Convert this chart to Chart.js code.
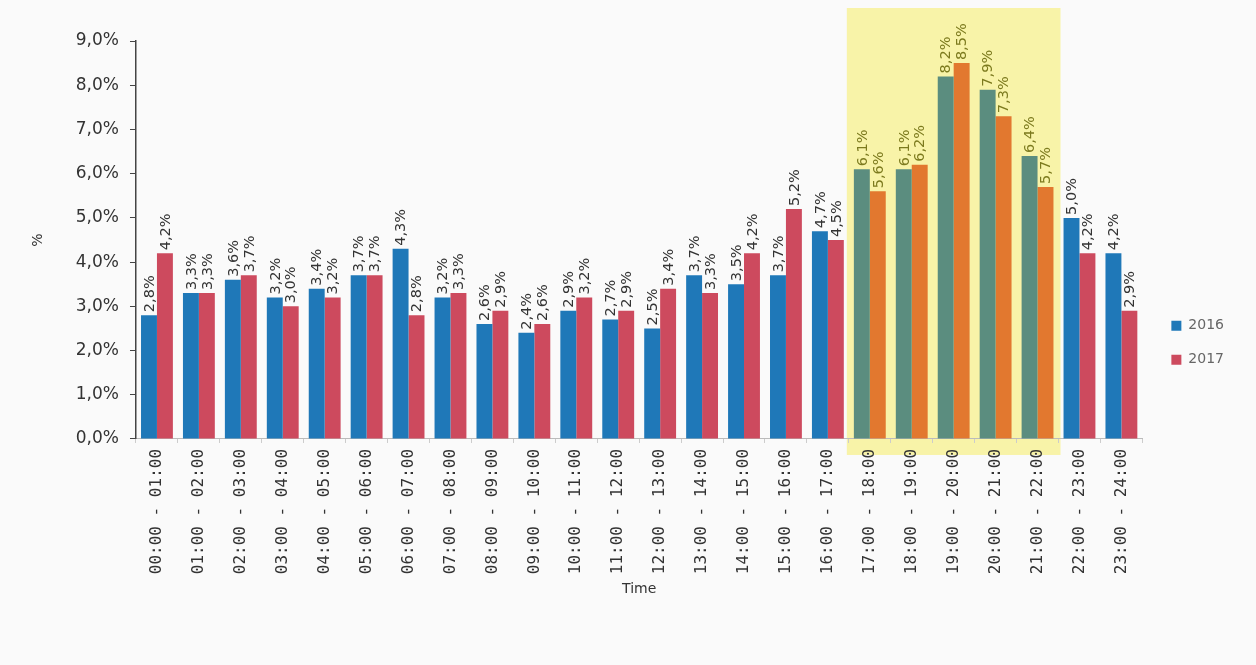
<!DOCTYPE html>
<html>
<head>
<meta charset="utf-8">
<script src="https://cdn.jsdelivr.net/npm/chart.js@4/dist/chart.umd.min.js"></script>
<style>
html,body{margin:0;padding:0;background:#ffffff;}
#wrap{position:relative;width:1256px;height:665px;background:#fafafa;}
#c{position:absolute;left:0;top:0;}
</style>
</head>
<body>
<div id="wrap"><canvas id="c" width="1256" height="665"></canvas></div>
<script>
const categories = ["00:00 - 01:00","01:00 - 02:00","02:00 - 03:00","03:00 - 04:00","04:00 - 05:00","05:00 - 06:00","06:00 - 07:00","07:00 - 08:00","08:00 - 09:00","09:00 - 10:00","10:00 - 11:00","11:00 - 12:00","12:00 - 13:00","13:00 - 14:00","14:00 - 15:00","15:00 - 16:00","16:00 - 17:00","17:00 - 18:00","18:00 - 19:00","19:00 - 20:00","20:00 - 21:00","21:00 - 22:00","22:00 - 23:00","23:00 - 24:00"];
const values2016 = [2.8,3.3,3.6,3.2,3.4,3.7,4.3,3.2,2.6,2.4,2.9,2.7,2.5,3.7,3.5,3.7,4.7,6.1,6.1,8.2,7.9,6.4,5.0,4.2];
const values2017 = [4.2,3.3,3.7,3.0,3.2,3.7,2.8,3.3,2.9,2.6,3.2,2.9,3.4,3.3,4.2,5.2,4.5,5.6,6.2,8.5,7.3,5.7,4.2,2.9];
const yTicks = [0,1,2,3,4,5,6,7,8,9];
const highlightFrom = 17, highlightTo = 21;
const seriesNames = ["2016","2017"];

const fmt = v => v.toFixed(1).replace('.', ',') + '%';
const inHL = i => i >= highlightFrom && i <= highlightTo;

const col2016 = categories.map((c,i) => inHL(i) ? '#5b8d7f' : '#1f78b8');
const col2017 = categories.map((c,i) => inHL(i) ? '#e2782f' : '#cd4a5e');

const highlightPlugin = {
  id: 'highlight',
  beforeDraw(chart) {
    const x = chart.scales.x, ctx = chart.ctx;
    const step = x.getPixelForValue(1) - x.getPixelForValue(0);
    const left = x.getPixelForValue(highlightFrom) - step/2 - 2;
    const right = x.getPixelForValue(highlightTo) + step/2 + 2;
    ctx.save();
    ctx.fillStyle = '#f8f3a8';
    ctx.fillRect(left, 8, right-left, chart.chartArea.bottom + 16 - 8);
    ctx.restore();
  }
};

const labelPlugin = {
  id: 'vlabels',
  afterDatasetsDraw(chart) {
    const ctx = chart.ctx;
    ctx.save();
    ctx.font = '14.5px "DejaVu Sans", Verdana, sans-serif';
    ctx.textAlign = 'left';
    ctx.textBaseline = 'middle';
    chart.data.datasets.forEach((ds, di) => {
      const meta = chart.getDatasetMeta(di);
      meta.data.forEach((bar, i) => {
        ctx.save();
        ctx.translate(bar.x + 1, bar.y - 3);
        ctx.rotate(-Math.PI/2);
        ctx.fillStyle = inHL(i) ? '#7c7a1e' : '#333333';
        ctx.fillText(fmt(ds.data[i]), 0, 0);
        ctx.restore();
      });
    });
    ctx.restore();
  }
};

new Chart(document.getElementById('c'), {
  type: 'bar',
  data: {
    labels: categories,
    datasets: [
      { label: seriesNames[0], data: values2016, backgroundColor: col2016, borderWidth: 0 },
      { label: seriesNames[1], data: values2017, backgroundColor: col2017, borderWidth: 0 }
    ]
  },
  options: {
    responsive: false,
    animation: false,
    devicePixelRatio: 1,
    layout: { padding: { left: 26, right: 22, top: 41, bottom: 63 } },
    datasets: { bar: { categoryPercentage: 0.76, barPercentage: 1.0 } },
    plugins: {
      legend: {
        position: 'right',
        title: { display: true, text: '', padding: { top: 28, bottom: 0 }, font: { size: 12 } },
        labels: {
          boxWidth: 10, boxHeight: 10, padding: 20,
          color: '#333', font: { family: '"DejaVu Sans", Verdana, sans-serif', size: 14 },
          generateLabels(chart) {
            return seriesNames.map((n, i) => ({
              text: n, fillStyle: i === 0 ? '#1f78b8' : '#cd4a5e', strokeStyle: 'rgba(0,0,0,0)', lineWidth: 0, datasetIndex: i
            }));
          }
        }
      },
      tooltip: { enabled: false }
    },
    scales: {
      x: {
        offset: true,
        grid: { display: true, drawOnChartArea: false, offset: true, tickLength: 4, color: '#cccccc' },
        border: { display: true, color: '#bbbbbb' },
        ticks: {
          autoSkip: false, maxRotation: 90, minRotation: 90, padding: 6,
          color: '#333', font: { family: '"DejaVu Sans Mono", monospace', size: 16 }
        },
        title: { display: true, text: 'Time', color: '#333', font: { family: '"DejaVu Sans", Verdana, sans-serif', size: 14 }, padding: { top: 1 } }
      },
      y: {
        min: 0, max: 9,
        afterBuildTicks(scale) { scale.ticks = yTicks.map(v => ({ value: v })); },
        grid: { display: true, drawOnChartArea: false, tickLength: 6, color: '#444' },
        border: { display: true, color: '#444', width: 1.5 },
        ticks: {
          padding: 11, color: '#333',
          font: { family: '"DejaVu Sans", Verdana, sans-serif', size: 17 },
          callback: v => fmt(v)
        },
        title: { display: true, text: '%', color: '#333', font: { family: '"DejaVu Sans", Verdana, sans-serif', size: 14 }, padding: { bottom: 18 } }
      },
      yR: {
        position: 'right', display: true,
        grid: { display: false }, border: { display: false },
        ticks: { display: false },
        afterFit(s) { s.width = 9; }
      }
    }
  },
  plugins: [highlightPlugin, labelPlugin]
});
</script>
</body>
</html>
